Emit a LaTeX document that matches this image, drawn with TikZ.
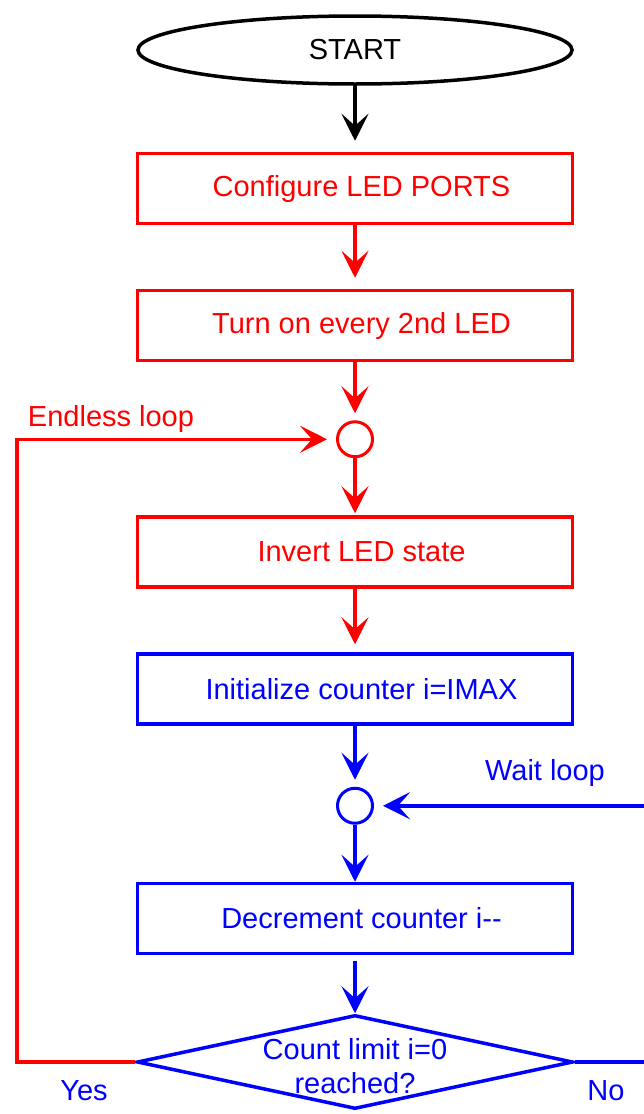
\documentclass[tikz,border=0pt]{standalone}
\usepackage{fontspec}
\setmainfont{Liberation Sans}
\usetikzlibrary{arrows.meta, positioning, shapes.geometric}

\begin{document}
\begin{tikzpicture}[
    x=1pt, y=-1pt,
    every node/.style={font=\fontsize{29}{34}\selectfont},
    stepbox/.style={
        rectangle,
        draw,
        line width=3.5pt,
        minimum width=435pt,
        minimum height=70pt,
        inner sep=0pt,
        execute at begin node=\hspace*{13pt}
    },
    terminal/.style={ellipse, draw, line width=3.5pt, minimum width=434pt, minimum height=68pt, inner sep=0pt},
    joint/.style={circle, draw, line width=3pt, minimum size=35pt, inner sep=0pt},
    decision/.style={diamond, draw, line width=3.5pt, minimum width=436pt, minimum height=94pt, inner sep=0pt},
    arrow/.style={-{Stealth[length=27pt, width=27pt, inset=12pt]}, line width=3.5pt},
    node distance=60pt
]
\useasboundingbox (0,0) rectangle (643,1114);

\node[terminal] (start) at (355,50) {START};

\node[stepbox, red, below=66pt of start] (ports) {Configure LED PORTS};

\node[stepbox, red, below=63.5pt of ports] (every) {Turn on every 2nd LED};

\node[joint, red, below=58pt of every] (endless) {};

\node[stepbox, red, below=57pt of endless] (invert) {Invert LED state};

\node[stepbox, blue, below=63.5pt of invert] (init) {Initialize counter i=IMAX};

\node[joint, blue, below=61pt of init] (wait) {};

\node[stepbox, blue, below=57pt of wait] (decr) {Decrement counter i-{}-};

\node[decision, blue, below=58pt of decr,
    label={[name=limittext, blue, align=center, yshift=-4pt]center:Count limit i=0\\reached?}] (limit) {};

% loop labels
\node[red, anchor=base] (endlesslabel) at (111,426) {Endless loop};
\node[blue, anchor=base] (waitlabel) at (545,780) {Wait loop};
\node[blue, anchor=base] (yeslabel) at (84,1100) {Yes};
\node[blue, anchor=base] (nolabel) at (606,1100) {No};

\coordinate (yescorner) at (17,1061);

\draw[arrow, shorten >=11pt] (start) -- (ports);
\draw[arrow, red, shorten >=11pt] (ports) -- (every);
\draw[arrow, red, shorten >=7pt] (every) -- (endless);
\draw[arrow, red, shorten >=2pt] (endless) -- (invert);
\draw[arrow, red, shorten >=8pt] (invert) -- (init);
\draw[arrow, blue, shorten >=7pt] (init) -- (wait);
\draw[arrow, blue] (wait) -- (decr);
\draw[arrow, blue, shorten <=6pt] (decr) -- (limit);

\draw[arrow, red, shorten >=9pt] (limit.west) -- (limit.west -| yescorner) |- (endless);
\draw[arrow, blue, shorten >=9pt] (limit.east) -- ++(80,0) |- (wait);

\end{tikzpicture}
\end{document}
